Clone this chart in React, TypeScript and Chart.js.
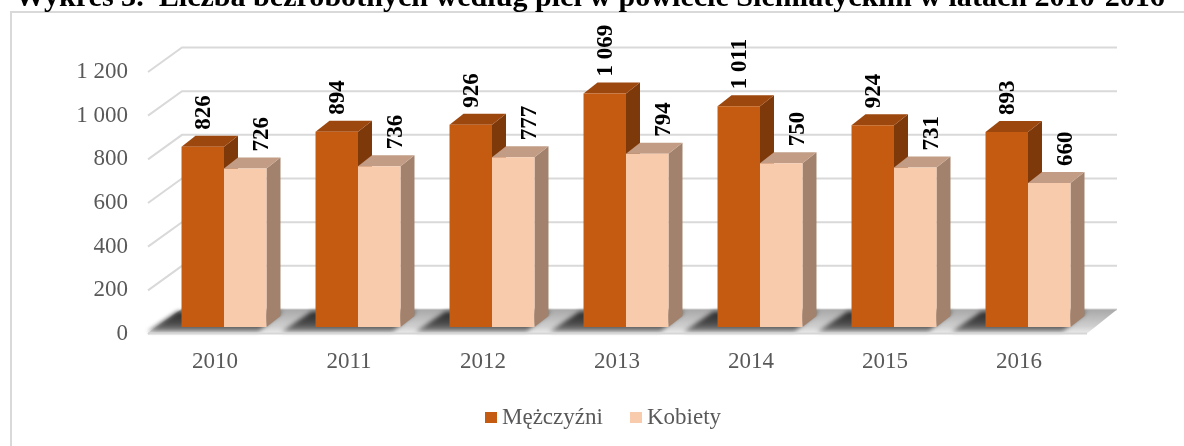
import React, { useEffect, useRef } from "react";
import { Chart, registerables } from "chart.js";

Chart.register(...registerables);

const TITLE = "Wykres 3.  Liczba bezrobotnych według płci w powiecie Siemiatyckim w latach 2010-2016";
const categories = ["2010", "2011", "2012", "2013", "2014", "2015", "2016"];
const seriesNames = ["Mężczyźni", "Kobiety"];
const menValues = [826, 894, 926, 1069, 1011, 924, 893];
const womenValues = [726, 736, 777, 794, 750, 731, 660];
const yMin = 0;
const yMax = 1200;
const yStep = 200;

const SERIF = "'Liberation Serif', 'Times New Roman', serif";
const FRONT = ["#C55A11", "#F8CBAD"];
const SIDE = ["#7E390B", "#A2826D"];
const TOP = ["#9C470D", "#C29C84"];

const fmt = (v: number) => String(v).replace(/\B(?=(\d{3})+(?!\d))/g, " ");

const threeD = {
  id: "threeD",
  beforeDatasetsDraw(chart: any) {
    const { ctx, chartArea, scales } = chart;
    const ys = scales.y;
    const L = chartArea.left;
    const R = chartArea.right;
    const backL = L + 25;
    const backR = R + 22;
    ctx.save();
    // wall gridlines
    ctx.strokeStyle = "#d9d9d9";
    ctx.lineWidth = 2;
    for (let v = yMin; v <= yMax; v += yStep) {
      const yb = ys.getPixelForValue(v) - 17.5;
      ctx.beginPath();
      ctx.moveTo(L - 9, yb + 24.5);
      ctx.lineTo(backL, yb);
      ctx.lineTo(backR, yb);
      ctx.stroke();
    }
    // floor
    const y0 = ys.getPixelForValue(0);
    const fb = y0 - 17.5;
    const ff = fb + 24;
    const g = ctx.createLinearGradient(0, fb, 0, ff);
    g.addColorStop(0, "#a8a8a8");
    g.addColorStop(0.7, "#cfcfcf");
    g.addColorStop(1, "#ececec");
    ctx.fillStyle = g;
    ctx.beginPath();
    ctx.moveTo(L - 9, ff);
    ctx.lineTo(backL, fb);
    ctx.lineTo(backR, fb);
    ctx.lineTo(R - 8, ff);
    ctx.closePath();
    ctx.fill();
    // shadows per group
    const m0 = chart.getDatasetMeta(0).data;
    const m1 = chart.getDatasetMeta(1).data;
    ctx.filter = "blur(2px)";
    for (let i = 0; i < m0.length; i++) {
      const gl = m0[i].x - m0[i].width / 2;
      const gr = m1[i].x + m1[i].width / 2;
      const sg = ctx.createLinearGradient(0, fb + 2, 0, ff);
      sg.addColorStop(0, "#2a2a2a");
      sg.addColorStop(0.55, "#4a4a4a");
      sg.addColorStop(1, "#9a9a9a");
      ctx.fillStyle = sg;
      ctx.beginPath();
      ctx.moveTo(gl - 34, ff - 2);
      ctx.lineTo(gl - 4, fb + 2);
      ctx.lineTo(gr + 16, fb + 2);
      ctx.lineTo(gr - 8, ff - 2);
      ctx.closePath();
      ctx.fill();
    }
    ctx.filter = "none";
    ctx.strokeStyle = "#d6d6d6";
    ctx.lineWidth = 2;
    ctx.beginPath();
    ctx.moveTo(L - 9, ff);
    ctx.lineTo(R - 8, ff);
    ctx.stroke();
    // bar sides & tops
    const dx = 14;
    const dy = 11;
    for (let i = 0; i < m0.length; i++) {
      [0, 1].forEach((d) => {
        const b = chart.getDatasetMeta(d).data[i];
        const l = b.x - b.width / 2;
        const r = b.x + b.width / 2;
        const t = b.y;
        const base = b.base;
        ctx.fillStyle = SIDE[d];
        ctx.beginPath();
        ctx.moveTo(r, t);
        ctx.lineTo(r + dx, t - dy);
        ctx.lineTo(r + dx, base - dy);
        ctx.lineTo(r, base);
        ctx.closePath();
        ctx.fill();
        ctx.fillStyle = TOP[d];
        ctx.beginPath();
        ctx.moveTo(l, t);
        ctx.lineTo(l + dx, t - dy);
        ctx.lineTo(r + dx, t - dy);
        ctx.lineTo(r, t);
        ctx.closePath();
        ctx.fill();
      });
    }
    ctx.restore();
  },
  afterDatasetsDraw(chart: any) {
    const { ctx } = chart;
    ctx.save();
    const size = 23;
    ctx.font = `bold ${size}px ${SERIF}`;
    ctx.fillStyle = "#000";
    ctx.textAlign = "left";
    ctx.textBaseline = "alphabetic";
    const shifts = [-1, 15];
    [0, 1].forEach((d) => {
      const meta = chart.getDatasetMeta(d);
      const vals = chart.data.datasets[d].data;
      meta.data.forEach((b: any, i: number) => {
        ctx.save();
        ctx.translate(b.x + shifts[d] + size * 0.34, b.y - 17);
        ctx.rotate(-Math.PI / 2);
        ctx.fillText(fmt(vals[i]), 0, 0);
        ctx.restore();
      });
    });
    ctx.restore();
  },
  afterDraw(chart: any) {
    const { ctx } = chart;
    ctx.save();
    // frame
    ctx.strokeStyle = "#d9d9d9";
    ctx.lineWidth = 2;
    ctx.strokeRect(11, 12, 1300, 600);
    // title
    ctx.font = `bold 100px ${SERIF}`;
    const w = ctx.measureText(TITLE).width;
    const fs = (100 * 1150) / w;
    ctx.font = `bold ${fs}px ${SERIF}`;
    ctx.fillStyle = "#000";
    ctx.textAlign = "left";
    ctx.textBaseline = "alphabetic";
    ctx.fillText(TITLE, 15, 6);
    // legend
    ctx.font = `23px ${SERIF}`;
    const xs = [485, 630];
    chart.data.datasets.forEach((ds: any, i: number) => {
      ctx.fillStyle = ds.backgroundColor;
      ctx.fillRect(xs[i], 412, 12, 11);
      ctx.fillStyle = "#595959";
      ctx.fillText(ds.label, xs[i] + 17, 424);
    });
    ctx.restore();
  },
};

export default function App() {
  const ref = useRef<HTMLCanvasElement | null>(null);
  useEffect(() => {
    if (!ref.current) return;
    const chart = new Chart(ref.current, {
      type: "bar",
      data: {
        labels: categories,
        datasets: [
          { label: seriesNames[0], data: menValues, backgroundColor: FRONT[0], categoryPercentage: 0.634, barPercentage: 1 },
          { label: seriesNames[1], data: womenValues, backgroundColor: FRONT[1], categoryPercentage: 0.634, barPercentage: 1 },
        ],
      },
      options: {
        animation: false,
        responsive: false,
        layout: { padding: { left: 0, right: 89, top: 65, bottom: 59 } },
        plugins: { legend: { display: false }, tooltip: { enabled: false }, title: { display: false } },
        scales: {
          x: {
            grid: { display: false, drawTicks: false },
            border: { display: false },
            ticks: { color: "#595959", font: { family: SERIF, size: 23 }, padding: 21, labelOffset: -9 },
            afterFit: (s: any) => { s.height = 60; },
          },
          y: {
            min: yMin,
            max: yMax,
            grid: { display: false, drawTicks: false },
            border: { display: false },
            ticks: { stepSize: yStep, color: "#595959", font: { family: SERIF, size: 23 }, padding: 29, labelOffset: 7, callback: (v: any) => fmt(Number(v)) },
            afterFit: (s: any) => { s.width = 157; },
          },
        },
      },
      plugins: [threeD],
    });
    return () => chart.destroy();
  }, []);
  return (
    <div style={{ position: "absolute", left: 0, top: 0, width: 1184, height: 446, background: "#fff" }}>
      <canvas ref={ref} width={1184} height={446} style={{ display: "block" }} />
    </div>
  );
}
